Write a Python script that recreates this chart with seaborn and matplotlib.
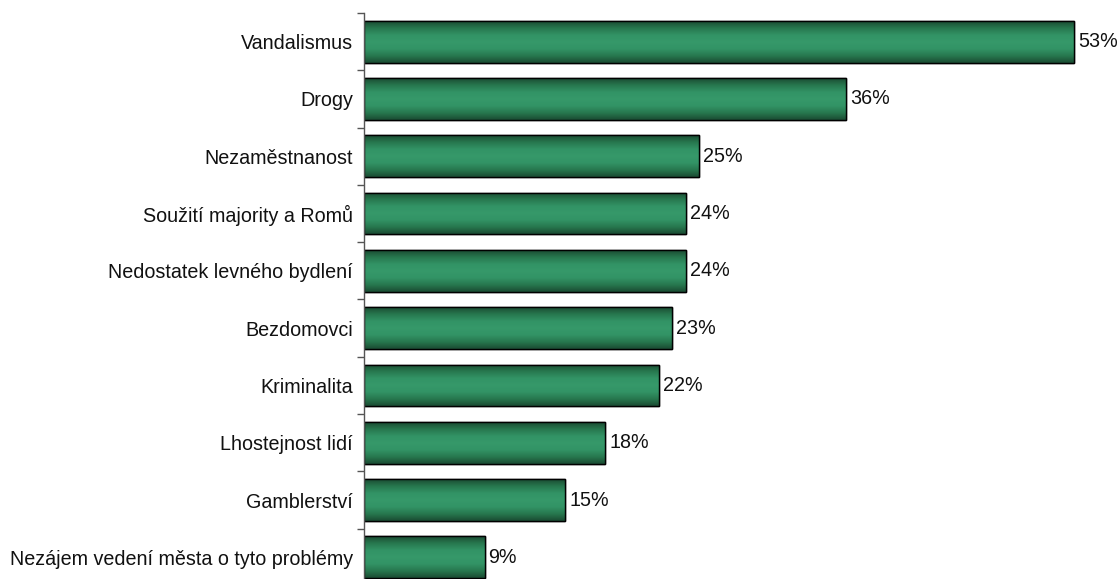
import numpy as np
import pandas as pd
import matplotlib
matplotlib.use("Agg")
import matplotlib.pyplot as plt
from matplotlib.colors import LinearSegmentedColormap
import seaborn as sns

categories = [
    "Vandalismus",
    "Drogy",
    "Nezaměstnanost",
    "Soužití majority a Romů",
    "Nedostatek levného bydlení",
    "Bezdomovci",
    "Kriminalita",
    "Lhostejnost lidí",
    "Gamblerství",
    "Nezájem vedení města o tyto problémy",
]
values = [53, 36, 25, 24, 24, 23, 22, 18, 15, 9]

df = pd.DataFrame({"problem": categories, "pct": values})

sns.set_theme(style="white")
plt.rcParams["font.family"] = ["Liberation Sans", "DejaVu Sans"]

W, H, DPI = 1119, 579, 100
FS = 14.2
fig = plt.figure(figsize=(W / DPI, H / DPI), dpi=DPI)
ax_left, ax_top, ax_bottom = 364, 13, 586
ax = fig.add_axes([ax_left / W, 1 - ax_bottom / H, (W - ax_left) / W, (ax_bottom - ax_top) / H])

sns.barplot(data=df, y="problem", x="pct", orient="h", ax=ax,
            color="#339966", width=0.73, edgecolor="black", linewidth=1.0,
            saturation=1)

px_per_unit = 13.4
ax.set_xlim(0, (W - ax_left) / px_per_unit)
ax.set_ylim(len(categories) - 0.5, -0.5)

# vertical shading across each bar: dark rims, lighter middle
shade = LinearSegmentedColormap.from_list(
    "bar_shade", ["#1a4a32", "#27774e", "#329365", "#36996a", "#329365", "#27774e", "#1a4a32"])
grad = np.linspace(0, 1, 256).reshape(-1, 1)
for patch in ax.patches:
    x0, y0 = patch.get_x(), patch.get_y()
    w, h = patch.get_width(), patch.get_height()
    im = ax.imshow(grad, cmap=shade, aspect="auto",
                   extent=[x0, x0 + w, y0 + h, y0], zorder=patch.get_zorder() + 0.1,
                   interpolation="bicubic")
    im.set_clip_path(patch)
    edge = plt.Rectangle((x0, y0), w, h, fill=False, edgecolor="black",
                         linewidth=1.0, zorder=patch.get_zorder() + 0.2)
    ax.add_patch(edge)
    ax.text(x0 + w + 0.3, y0 + h / 2, f"{int(round(w))}%", va="center", ha="left",
            fontsize=FS, color="#111111", zorder=5)

ax.set_xlabel("")
ax.set_ylabel("")
ax.set_xticks([])
ax.set_yticks(range(len(categories)))
ax.set_yticklabels(categories, fontsize=FS, color="#111111")
ax.set_yticks(np.arange(-0.5, len(categories), 1.0), minor=True)
ax.tick_params(axis="y", which="major", length=0, pad=8)
ax.tick_params(axis="y", which="minor", length=5, width=1, color="#555555", left=True)

for side in ["top", "right", "bottom"]:
    ax.spines[side].set_visible(False)
ax.spines["left"].set_color("#555555")
ax.spines["left"].set_linewidth(1.0)

fig.savefig("out.png", dpi=DPI)
